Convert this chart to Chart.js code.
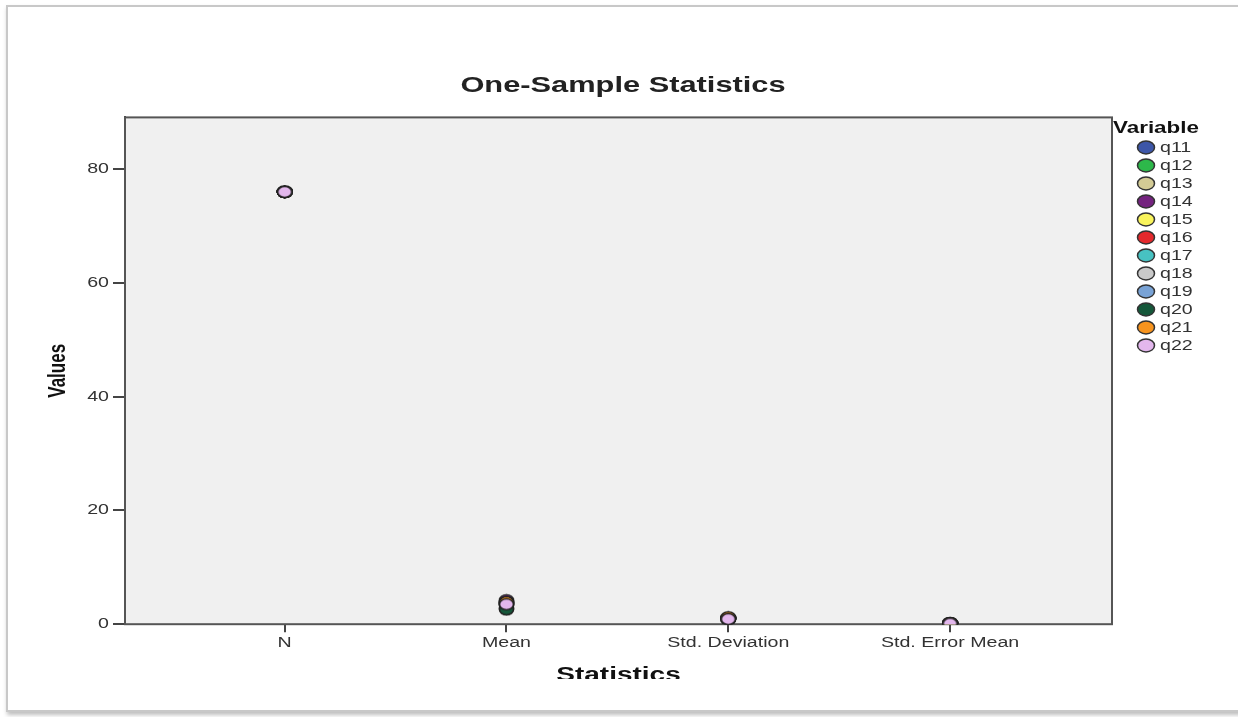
<!DOCTYPE html>
<html lang="en">
<head>
  <meta charset="UTF-8" />
  <title>One-Sample Statistics</title>
  <script src="https://cdn.jsdelivr.net/npm/chart.js"></script>
  <style>
    html, body { margin: 0; padding: 0; background: #fff; }
    body { width: 1238px; height: 717px; position: relative; overflow: hidden; }
    #frame {
      position: absolute; left: 6px; top: 5px; width: 1240px; height: 703px;
      border: 2px solid #c8c8c8; box-shadow: 1px 3px 4px rgba(0,0,0,0.25);
    }
    #clip { position: absolute; left: 0; top: 0; width: 1238px; height: 679px; overflow: hidden; }
  </style>
</head>
<body>
<div id="frame"></div>
<div id="clip">
  <canvas id="chart" width="1238" height="720"></canvas>
</div>

<script>
// categories on the x axis
const statistics = ['N', 'Mean', 'Std. Deviation', 'Std. Error Mean'];
const variables = ['q11', 'q12', 'q13', 'q14', 'q15', 'q16', 'q17', 'q18', 'q19', 'q20', 'q21', 'q22'];
const colors = ['#3d56a8', '#2db84a', '#d3cb95', '#74237f', '#f9f45c', '#e4292c',
                '#47c2c2', '#c9c9c9', '#79a3d6', '#15573a', '#f7941e', '#e3b7ed'];

// values per statistic, one entry per variable (q11..q22)
const nValues    = [76, 76, 76, 76, 76, 76, 76, 76, 76, 76, 76, 76];
const meanValues = [3.9, 2.7, 3.5, 4.2, 3.8, 3.6, 3.4, 3.7, 3.3, 2.6, 3.9, 3.5];
const sdValues   = [0.95, 1.05, 0.9, 1.0, 0.85, 1.1, 0.95, 0.9, 1.0, 1.05, 1.2, 0.9];
const seValues   = [0.11, 0.12, 0.10, 0.11, 0.10, 0.13, 0.11, 0.10, 0.11, 0.12, 0.14, 0.10];
const yTicks = [0, 20, 40, 60, 80];

// the source picture is stretched sideways, so all text gets drawn wider too
const STRETCH = 1.4;
const baseFillText = CanvasRenderingContext2D.prototype.fillText;
CanvasRenderingContext2D.prototype.fillText = function (text, x, y, maxWidth) {
  const m = this.getTransform();
  const px = m.a * x + m.c * y + m.e;
  this.save();
  this.setTransform(new DOMMatrix().translate(px, 0).scale(STRETCH, 1).translate(-px, 0).multiply(m));
  if (maxWidth === undefined) baseFillText.call(this, text, x, y);
  else baseFillText.call(this, text, x, y, maxWidth);
  this.restore();
};

// oval marker like the SPSS ones
function oval(color, w, h) {
  const c = document.createElement('canvas');
  c.width = w + 3; c.height = h + 3;
  const g = c.getContext('2d');
  g.beginPath();
  g.ellipse(c.width / 2, c.height / 2, w / 2, h / 2, 0, 0, Math.PI * 2);
  g.fillStyle = color;
  g.fill();
  g.lineWidth = 1.6;
  g.strokeStyle = '#222';
  g.stroke();
  return c;
}

const datasets = variables.map((v, i) => ({
  label: v,
  data: [nValues[i], meanValues[i], sdValues[i], seValues[i]].map((y, k) => ({ x: k, y: y })),
  backgroundColor: colors[i],
  borderColor: '#222',
  pointStyle: oval(colors[i], 14, 11),
  pointRadius: 7,
  pointHoverRadius: 7,
  order: variables.length - i   // so q22 ends up drawn on top
}));

const plotFrame = {
  id: 'plotFrame',
  beforeDatasetsDraw(chart) {
    const { ctx, chartArea: a } = chart;
    ctx.save();
    ctx.fillStyle = '#f0f0f0';
    ctx.fillRect(a.left, a.top, a.right - a.left, a.bottom - a.top);
    ctx.strokeStyle = '#555';
    ctx.lineWidth = 2;
    ctx.strokeRect(a.left, a.top, a.right - a.left, a.bottom - a.top);
    ctx.restore();
  }
};

// SPSS style legend: bold title then oval swatches, right next to the plot
const sideLegend = {
  id: 'sideLegend',
  afterDraw(chart) {
    const { ctx, chartArea: a } = chart;
    ctx.save();
    ctx.textBaseline = 'middle';
    ctx.textAlign = 'left';
    ctx.fillStyle = '#111';
    ctx.font = 'bold 16px "Liberation Sans", sans-serif';
    ctx.fillText('Variable', a.right + 1, a.top + 11);
    ctx.font = '14px "Liberation Sans", sans-serif';
    chart.data.datasets.forEach((ds, i) => {
      const y = a.top + 30 + i * 18;
      ctx.beginPath();
      ctx.ellipse(a.right + 34, y, 8.5, 6.5, 0, 0, Math.PI * 2);
      ctx.fillStyle = ds.backgroundColor;
      ctx.fill();
      ctx.lineWidth = 1.5;
      ctx.strokeStyle = '#333';
      ctx.stroke();
      ctx.fillStyle = '#333';
      ctx.fillText(ds.label, a.right + 48, y + 1);
    });
    ctx.restore();
  }
};

Chart.defaults.font.family = '"Liberation Sans", Arial, sans-serif';
Chart.defaults.color = '#222';

new Chart(document.getElementById('chart'), {
  type: 'scatter',
  data: { datasets: datasets },
  plugins: [plotFrame, sideLegend],
  options: {
    responsive: false,
    animation: false,
    layout: { padding: { left: 40, right: 32, top: 0, bottom: 33 } },
    plugins: {
      title: {
        display: true,
        text: 'One-Sample Statistics',
        font: { size: 22, weight: 'bold' },
        color: '#222',
        padding: { top: 73, bottom: 18 }
      },
      legend: { display: false },
      tooltip: { enabled: false }
    },
    scales: {
      x: {
        type: 'linear',
        min: -0.72,
        max: 3.73,
        afterBuildTicks: (scale) => { scale.ticks = statistics.map((s, i) => ({ value: i })); },
        ticks: {
          callback: (v) => statistics[v],
          font: { size: 14 },
          color: '#333',
          padding: 3,
          maxRotation: 0,
          autoSkip: false
        },
        grid: { drawOnChartArea: false, tickLength: 8, color: '#444', lineWidth: 2 },
        border: { color: '#444', width: 2 },
        title: {
          display: true,
          text: 'Statistics',
          font: { size: 20, weight: 'bold' },
          color: '#111',
          padding: { top: 8, bottom: 0 }
        }
      },
      y: {
        min: 0,
        max: 89.1,
        afterBuildTicks: (scale) => { scale.ticks = yTicks.map(v => ({ value: v })); },
        afterFit: (scale) => { scale.width = 85; },
        ticks: { font: { size: 14 }, color: '#333', padding: 4 },
        grid: { drawOnChartArea: false, tickLength: 12, color: '#444', lineWidth: 2 },
        border: { color: '#444', width: 2 },
        title: {
          display: true,
          text: 'Values',
          font: { size: 17, weight: 'bold' },
          color: '#111',
          padding: { top: 8, bottom: 0 }
        }
      },
      // empty strip on the right that keeps room for the legend
      legendSpace: {
        type: 'linear',
        position: 'right',
        min: 0,
        max: 1,
        afterFit: (scale) => { scale.width = 94; },
        ticks: { display: false },
        grid: { display: false },
        border: { display: false }
      }
    }
  }
});
</script>
</body>
</html>
